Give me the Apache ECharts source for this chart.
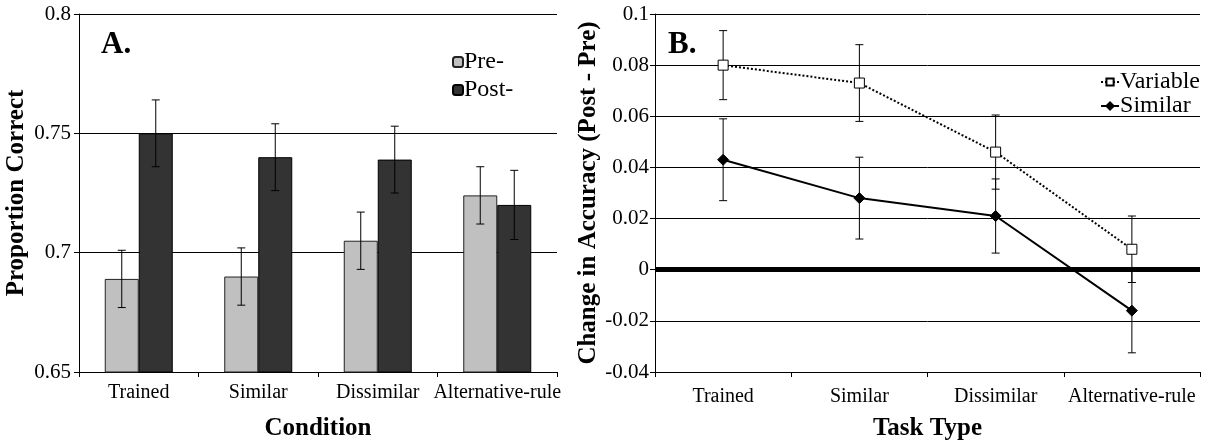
<!DOCTYPE html>
<html>
<head>
<meta charset="utf-8">
<script src="https://cdn.jsdelivr.net/npm/echarts@6/dist/echarts.min.js"></script>
<style>
  html, body { margin: 0; padding: 0; background: #fff; }
  #chart { width: 1209px; height: 446px; }
</style>
</head>
<body>
<div id="chart"></div>
<script>
// panel A: proportion correct
var conditions = ['Trained', 'Similar', 'Dissimilar', 'Alternative-rule'];
var preMean = [0.689, 0.690, 0.705, 0.724];
var preErr = [0.012, 0.012, 0.012, 0.012];
var postMean = [0.750, 0.740, 0.739, 0.720];
var postErr = [0.014, 0.014, 0.014, 0.0145];

// panel B: change in accuracy
var taskTypes = ['Trained', 'Similar', 'Dissimilar', 'Alternative-rule'];
var variableMean = [0.080, 0.073, 0.046, 0.008];
var variableErr = [0.0135, 0.015, 0.0145, 0.013];
var similarMean = [0.043, 0.028, 0.021, -0.016];
var similarErr = [0.016, 0.016, 0.0145, 0.0165];

var serif = 'Liberation Serif, Times New Roman, serif';

function errData(means, errs) {
  return means.map(function (m, i) { return [i, m - errs[i], m + errs[i]]; });
}

function errRender(offset) {
  return function (params, api) {
    var lo = api.coord([api.value(0), api.value(1)]);
    var hi = api.coord([api.value(0), api.value(2)]);
    var x = lo[0] + offset;
    var style = { stroke: '#000', lineWidth: 1 };
    return {
      type: 'group',
      children: [
        { type: 'line', shape: { x1: x, y1: lo[1], x2: x, y2: hi[1] }, style: style },
        { type: 'line', shape: { x1: x - 4, y1: lo[1], x2: x + 4, y2: lo[1] }, style: style },
        { type: 'line', shape: { x1: x - 4, y1: hi[1], x2: x + 4, y2: hi[1] }, style: style }
      ]
    };
  };
}

var chart = echarts.init(document.getElementById('chart'));

var option = {
  animation: false,
  textStyle: { fontFamily: serif, color: '#000' },
  title: [
    { text: 'A.', left: 101, top: 29, padding: 0, textStyle: { fontFamily: serif, fontSize: 31, fontWeight: 'bold', color: '#000' } },
    { text: 'B.', left: 668, top: 29, padding: 0, textStyle: { fontFamily: serif, fontSize: 31, fontWeight: 'bold', color: '#000' } }
  ],
  legend: [
    {
      data: ['Pre-', 'Post-'],
      orient: 'vertical', left: 452, top: 50, itemGap: 4, padding: 0,
      itemWidth: 10, itemHeight: 10,
      textStyle: { fontFamily: serif, fontSize: 24, color: '#000', padding: [0, 0, 0, -4] }
    },
    {
      data: ['Variable', 'Similar'],
      orient: 'vertical', right: 9, top: 70, itemGap: 0, padding: 0,
      itemWidth: 18, itemHeight: 9,
      textStyle: { fontFamily: serif, fontSize: 24, color: '#000', padding: [0, 0, 0, -4] }
    }
  ],
  grid: [
    { left: 79, top: 14, width: 478, height: 358 },
    { left: 655, top: 14, width: 545, height: 358 }
  ],
  xAxis: [
    {
      gridIndex: 0, type: 'category', data: conditions,
      name: 'Condition', nameLocation: 'middle', nameGap: 44,
      nameTextStyle: { fontFamily: serif, fontSize: 25, fontWeight: 'bold', color: '#000' },
      axisLine: { lineStyle: { color: '#000', width: 1 } },
      axisTick: { show: true, length: 5, lineStyle: { color: '#000' } },
      axisLabel: { fontFamily: serif, fontSize: 20, color: '#000', margin: 11, interval: 0 }
    },
    {
      gridIndex: 1, type: 'category', data: taskTypes,
      name: 'Task Type', nameLocation: 'middle', nameGap: 44,
      nameTextStyle: { fontFamily: serif, fontSize: 25, fontWeight: 'bold', color: '#000' },
      axisLine: { onZero: false, lineStyle: { color: '#000', width: 1 } },
      axisTick: { show: true, length: 5, lineStyle: { color: '#000' } },
      axisLabel: { fontFamily: serif, fontSize: 20, color: '#000', margin: 15, interval: 0 }
    }
  ],
  yAxis: [
    {
      gridIndex: 0, type: 'value', min: 0.65, max: 0.8, interval: 0.05,
      name: 'Proportion Correct', nameLocation: 'middle', nameGap: 50,
      nameTextStyle: { fontFamily: serif, fontSize: 25, fontWeight: 'bold', color: '#000' },
      axisLine: { show: true, lineStyle: { color: '#000', width: 1 } },
      axisTick: { show: true, length: 5, lineStyle: { color: '#000' } },
      axisLabel: { fontFamily: serif, fontSize: 21, color: '#000', margin: 8 },
      splitLine: { show: true, lineStyle: { color: '#000', width: 1 } }
    },
    {
      gridIndex: 1, type: 'value', min: -0.04, max: 0.1, interval: 0.02,
      name: 'Change in Accuracy (Post - Pre)', nameLocation: 'middle', nameGap: 44,
      nameTextStyle: { fontFamily: serif, fontSize: 25, fontWeight: 'bold', color: '#000' },
      axisLine: { show: true, lineStyle: { color: '#000', width: 1 } },
      axisTick: { show: true, length: 5, lineStyle: { color: '#000' } },
      axisLabel: {
        fontFamily: serif, fontSize: 21, color: '#000', margin: 6,
        formatter: function (v) { return String(+v.toFixed(2)); }
      },
      splitLine: { show: true, lineStyle: { color: '#000', width: 1 } }
    }
  ],
  series: [
    {
      name: 'Pre-', type: 'bar', xAxisIndex: 0, yAxisIndex: 0,
      data: preMean, barWidth: 34, barGap: '0%',
      itemStyle: { color: '#c0c0c0', borderColor: '#222', borderWidth: 1 }
    },
    {
      name: 'Post-', type: 'bar', xAxisIndex: 0, yAxisIndex: 0,
      data: postMean, barWidth: 34, barGap: '0%',
      itemStyle: { color: '#333333', borderColor: '#000', borderWidth: 1 }
    },
    {
      type: 'custom', xAxisIndex: 0, yAxisIndex: 0, z: 5,
      data: errData(preMean, preErr), renderItem: errRender(-17)
    },
    {
      type: 'custom', xAxisIndex: 0, yAxisIndex: 0, z: 5,
      data: errData(postMean, postErr), renderItem: errRender(17)
    },
    {
      type: 'custom', xAxisIndex: 1, yAxisIndex: 1, z: 1,
      data: errData(variableMean, variableErr), renderItem: errRender(0)
    },
    {
      type: 'custom', xAxisIndex: 1, yAxisIndex: 1, z: 1,
      data: errData(similarMean, similarErr), renderItem: errRender(0)
    },
    {
      name: 'Variable', type: 'line', xAxisIndex: 1, yAxisIndex: 1, z: 4,
      data: variableMean,
      symbol: 'rect', symbolSize: 10, showAllSymbol: true,
      lineStyle: { color: '#000', width: 2, type: [2, 2] },
      itemStyle: { color: '#fff', borderColor: '#000', borderWidth: 1 }
    },
    {
      name: 'Similar', type: 'line', xAxisIndex: 1, yAxisIndex: 1, z: 4,
      data: similarMean,
      symbol: 'diamond', symbolSize: 11, showAllSymbol: true,
      lineStyle: { color: '#000', width: 2 },
      itemStyle: { color: '#000', borderColor: '#000', borderWidth: 1 },
      markLine: {
        silent: true, symbol: 'none', label: { show: false },
        lineStyle: { color: '#000', width: 5, type: 'solid' },
        data: [{ yAxis: 0 }]
      }
    }
  ]
};

chart.setOption(option);
</script>
</body>
</html>
